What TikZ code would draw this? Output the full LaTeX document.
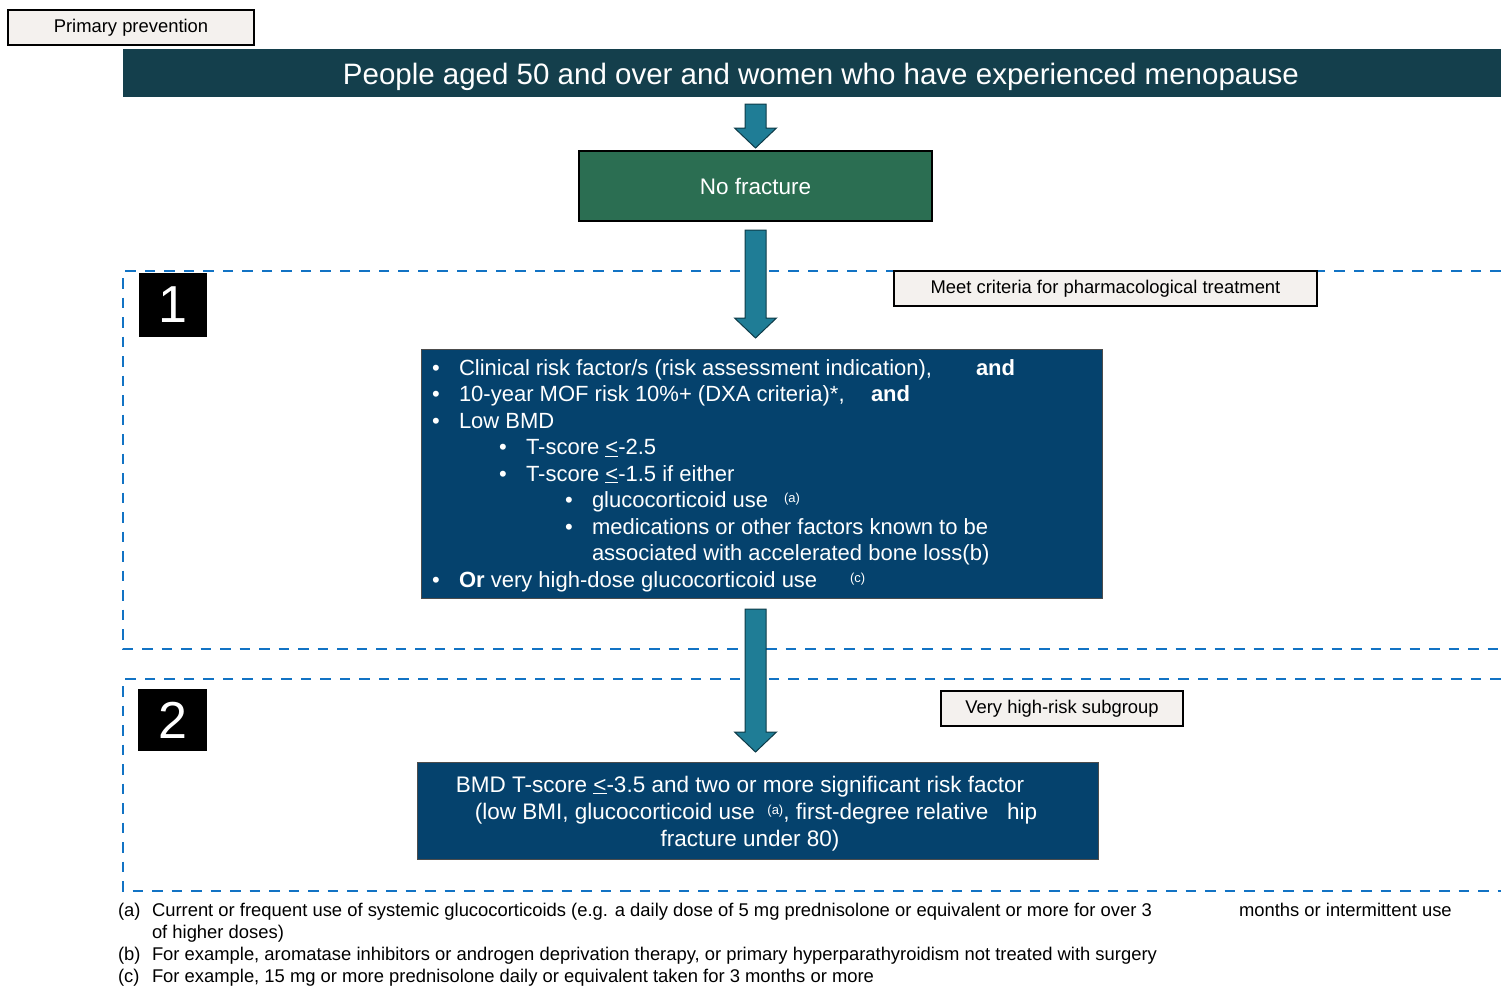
\documentclass[tikz,border=0pt]{standalone}
\usepackage{fontspec}
\setmainfont{Liberation Sans}
\usetikzlibrary{calc}
\definecolor{bannercol}{HTML}{143F4C}
\definecolor{nofxcol}{HTML}{2B6E52}
\definecolor{bluebox}{HTML}{05426D}
\definecolor{arrowfill}{HTML}{1F7D96}
\definecolor{arrowline}{HTML}{0E3B48}
\definecolor{dashblue}{HTML}{1273C4}
\definecolor{labelfill}{HTML}{F4F1EE}
\newcommand\fs[1]{\fontsize{#1}{#1}\selectfont}
\newcommand\sups[1]{\raisebox{5pt}{\fs{13}#1}}
\newcommand\blockarrow[2]{%
  \filldraw[arrowst] ($(#1)+(-10.5,0)$) -- ($(#2)+(-10.5,-20)$) -- ($(#2)+(-21,-20)$) -- (#2)
   -- ($(#2)+(21,-20)$) -- ($(#2)+(10.5,-20)$) -- ($(#1)+(10.5,0)$) -- cycle;}
\begin{document}
\begin{tikzpicture}[x=1pt,y=-1pt,
  every node/.style={inner sep=0pt, outer sep=0pt},
  labelbox/.style={draw=black, line width=1.5pt, fill=labelfill, font=\fs{18.4}, anchor=north west},
  arrowst/.style={fill=arrowfill, draw=arrowline, line width=1pt},
  dashreg/.style={draw=dashblue, line width=2.8pt, dash pattern=on 10.5pt off 9pt},
  numbox/.style={fill=black, text=white, font=\fs{52}, anchor=north west},
  wtxt/.style={anchor=base west, text=white, font=\fs{22}},
  btxt/.style={anchor=base, text=white, font=\fs{22.5}},
  foot/.style={anchor=base west, font=\fs{18.4}}]
\useasboundingbox (0,0) rectangle (1501,986);

% dashed regions
\draw[dashreg] (1520,271) -- (123,271) -- (123,649) -- (1520,649);
\draw[dashreg] (1520,679) -- (123,679) -- (123,891) -- (1520,891);

% header
\node[labelbox, minimum width=246, minimum height=35] (prim) at (8,10) {Primary prevention};
\node[fill=bannercol, minimum width=1378, minimum height=48, anchor=north west] (banner) at (123,49) {};
\node[anchor=base, text=white, font=\fs{29.5}] (bannertxt) at (821,84) {People aged 50 and over and women who have experienced menopause};

\node[fill=nofxcol, draw=black, line width=1.5pt, text=white, font=\fs{22.5}, minimum width=353, minimum height=70, anchor=north west] (nofx) at (579,151) {No fracture};

% region 1
\node[numbox, minimum width=68, minimum height=64] (n1) at (139,273) {1};
\node[labelbox, minimum width=423, minimum height=35] (meet) at (894,271) {Meet criteria for pharmacological treatment};
\node[fill=bluebox, draw=black!70, line width=1pt, minimum width=681, minimum height=249, anchor=north west] (crit) at (421,349) {};

\foreach \yy in {375,401.5,428,587} {\node[wtxt] at (432,\yy) {•};}
\foreach \yy in {454.5,481} {\node[wtxt] at (499,\yy) {•};}
\foreach \yy in {507.5,534} {\node[wtxt] at (565,\yy) {•};}
\node[wtxt] (c1) at (459,375) {Clinical risk factor/s (risk assessment indication),};
\node[wtxt] (c1b) at (976,375) {\textbf{and}};
\node[wtxt] (c2) at (459,401.5) {10-year MOF risk 10\%+ (DXA criteria)*,};
\node[wtxt] (c2b) at (871,401.5) {\textbf{and}};
\node[wtxt] (c3) at (459,428) {Low BMD};
\node[wtxt] (c4) at (526,454.5) {T-score \underline{<}-2.5};
\node[wtxt] (c5) at (526,481) {T-score \underline{<}-1.5 if either};
\node[wtxt] (c6) at (592,507.5) {glucocorticoid use};
\node[wtxt] (c6s) at (784,507.5) {\sups{(a)}};
\node[wtxt] (c7) at (592,534) {medications or other factors known to be};
\node[wtxt] (c8) at (592,560.5) {associated with accelerated bone loss(b)};
\node[wtxt] (c9) at (459,587) {\textbf{Or} very high-dose glucocorticoid use};
\node[wtxt] (c9s) at (850,587) {\sups{(c)}};

% region 2
\node[numbox, minimum width=69, minimum height=62] (n2) at (138,689) {2};
\node[labelbox, minimum width=242, minimum height=35] (vhr) at (941,691) {Very high-risk subgroup};
\node[fill=bluebox, draw=black!70, line width=1pt, minimum width=681, minimum height=97, anchor=north west] (bmd) at (417,762) {};
\node[btxt] (b1) at (740,792) {BMD T-score \underline{<}-3.5 and two or more significant risk factor};
\node[btxt] (b2) at (756,819) {(low BMI, glucocorticoid use \ \sups{(a)}, first-degree relative \ \ hip};
\node[btxt] (b3) at (750,846) {fracture under 80)};

% arrows
\coordinate (a1s) at ($(banner.south -| nofx.north)+(0,7)$);
\coordinate (a1e) at ($(nofx.north)+(0,-3)$);
\coordinate (a2s) at ($(nofx.south)+(0,9)$);
\coordinate (a2e) at ($(crit.north -| nofx.south)+(0,-11)$);
\coordinate (a3s) at ($(crit.south -| nofx.south)+(0,11)$);
\coordinate (a3e) at ($(bmd.north -| nofx.south)+(0,-10)$);
\blockarrow{a1s}{a1e}
\blockarrow{a2s}{a2e}
\blockarrow{a3s}{a3e}

% footnotes
\node[foot] (fa) at (118,916) {(a)};
\node[foot] (fat) at (152,916) {Current or frequent use of systemic glucocorticoids (e.g. a daily dose of 5 mg prednisolone or equivalent or more for over 3};
\node[foot] (fat2) at (1239,916) {months or intermittent use};
\node[foot] (fa2) at (152,938) {of higher doses)};
\node[foot] (fb) at (118,960) {(b)};
\node[foot] (fbt) at (152,960) {For example, aromatase inhibitors or androgen deprivation therapy, or primary hyperparathyroidism not treated with surgery};
\node[foot] (fc) at (118,982) {(c)};
\node[foot] (fct) at (152,982) {For example, 15 mg or more prednisolone daily or equivalent taken for 3 months or more};
\end{tikzpicture}
\end{document}
